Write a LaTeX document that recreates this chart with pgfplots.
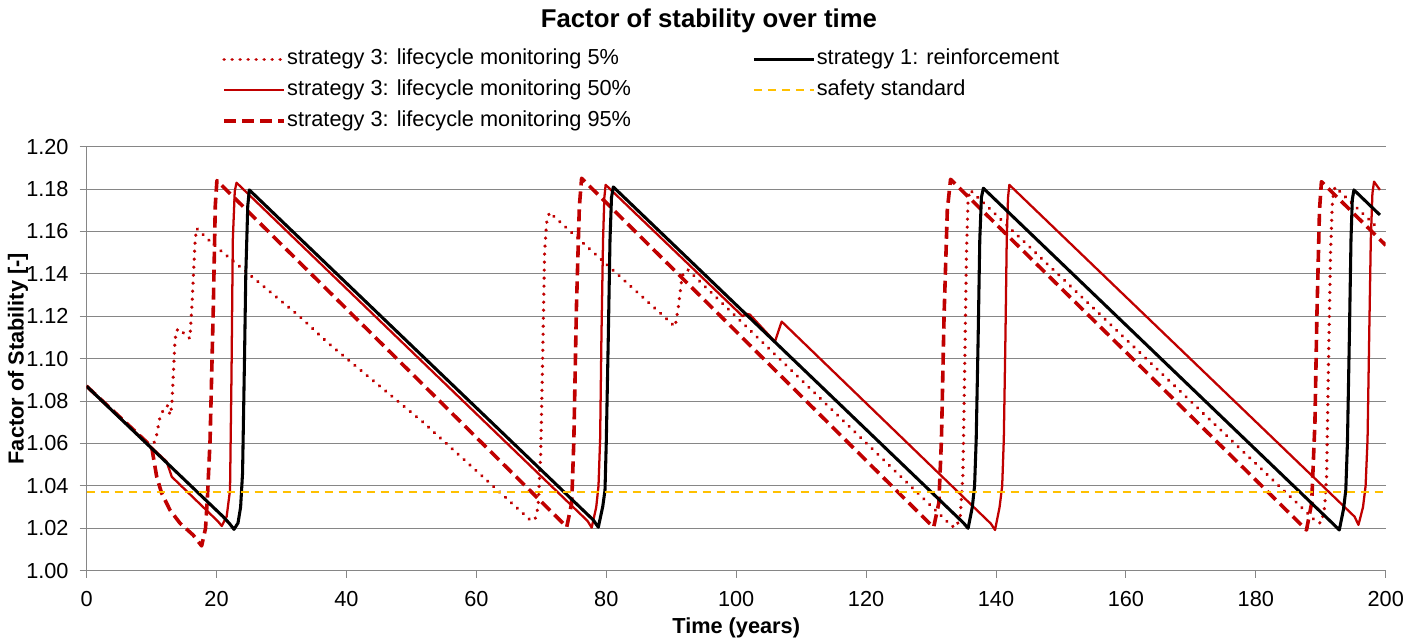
\documentclass[border=0pt]{standalone}
\usepackage{fontspec}
\setmainfont{Liberation Sans}
\usepackage{pgfplots}
\pgfplotsset{compat=1.18}
\definecolor{sred}{HTML}{C00000}
\definecolor{sorange}{HTML}{FFC000}
\definecolor{sgray}{HTML}{868686}
\tikzset{
  sdot/.style={sred, line width=2.7pt, line cap=round, dash pattern=on 0.01pt off 6pt},
  sfifty/.style={sred, line width=1.7pt},
  sninety/.style={sred, line width=2.7pt, dash pattern=on 9pt off 4.5pt},
  sone/.style={black, line width=2.3pt},
  ssafe/.style={sorange, line width=1.5pt, dash pattern=on 6pt off 4.5pt},
}
\begin{document}
\begin{tikzpicture}
\begin{axis}[
  at={(0pt,0pt)}, anchor=south west,
  scale only axis, width=974.25pt, height=318pt,
  xmin=0, xmax=200, ymin=1.00, ymax=1.20,
  xtick={0,20,40,60,80,100,120,140,160,180,200},
  ytick={1.00,1.02,1.04,1.06,1.08,1.10,1.12,1.14,1.16,1.18,1.20},
  axis x line=bottom, axis y line=left,
  axis line style={sgray, line width=1pt, -},
  ymajorgrids, grid style={sgray, line width=0.75pt},
  tick align=outside, major tick length=5.25pt,
  tick style={sgray, line width=0.75pt},
  /pgf/number format/assume math mode=true,
  yticklabel style={/pgf/number format/fixed, /pgf/number format/fixed zerofill, /pgf/number format/precision=2},
  ticklabel style={font=\fontsize{16.3}{19}\selectfont, black},
  yticklabel style={xshift=-4.8pt},
  xticklabel style={yshift=-7pt},
  xlabel={Time (years)}, ylabel={Factor of Stability [-]},
  label style={font=\fontsize{16.3}{19}\selectfont\bfseries},
  x label style={at={(axis description cs:0.5,0)}, anchor=center, yshift=-43pt},
  y label style={at={(axis description cs:0,0.5)}, anchor=center, yshift=51.5pt},
  title={Factor of stability over time},
  title style={at={(axis description cs:0.479,1.2787)}, anchor=center, font=\fontsize{19.3}{22}\selectfont\bfseries},
  legend columns=2,
  legend cell align=left,
  legend image code/.code={\draw[#1] (0pt,0pt) -- (45pt,0pt);},
  legend style={draw=none, fill=none, at={(axis description cs:0.1042,1.2343)}, anchor=north west,
    font=\fontsize{16.3}{19}\selectfont, inner sep=0pt, row sep=5pt,
    nodes={inner sep=1pt, text height=12pt, text depth=4pt},
    /tikz/every even column/.append style={column sep=90pt}},
]
\addlegendimage{sdot}\addlegendentry{strategy 3: lifecycle monitoring 5\%}
\addlegendimage{sone}\addlegendentry{strategy 1: reinforcement}
\addlegendimage{sfifty}\addlegendentry{strategy 3: lifecycle monitoring 50\%}
\addlegendimage{ssafe}\addlegendentry{safety standard}
\addlegendimage{sninety}\addlegendentry{strategy 3: lifecycle monitoring 95\%}

% strategy 3: 5%
\addplot[sdot, line join=round, forget plot] coordinates {
(0,1.087)(10.0,1.0578)(10.67,1.0624)(11.3,1.0726)(12.06,1.0774)(12.5,1.0778)(12.83,1.0734)(13.1,1.0774)(13.6,1.1088)(13.86,1.1135)(14.6,1.1138)(15.1,1.111)(15.9,1.1096)(16.2,1.1245)(16.7,1.156)(16.94,1.1615)(18.5,1.1568)(20.5,1.1513)(23.6,1.1434)(32.84,1.1198)(37.2,1.1073)(51.8,1.0700)(68.3,1.0239)(69.0,1.0239)(69.5,1.030)(69.9,1.055)(70.2,1.10)(70.5,1.15)(70.8,1.164)(71.25,1.169)
(90.6,1.1151)(91.1,1.1245)(91.6,1.137)(91.9,1.141)(92.6,1.1418)
(133.2,1.021)(133.9,1.0205)(134.5,1.026)(134.9,1.045)(135.2,1.10)(135.45,1.15)(135.7,1.175)(136.0,1.1796)
(189.5,1.0226)(190.1,1.0226)(190.6,1.030)(190.9,1.045)(191.2,1.10)(191.5,1.15)(191.8,1.175)(192.2,1.181)(199.1,1.1607)
};
% strategy 3: 50%
\addplot[sfifty, line join=round, forget plot] coordinates {
(0,1.087)(12.3,1.0515)(13.1,1.0443)(20.2,1.0233)(20.8,1.0211)(21.55,1.0255)(22.07,1.038)(22.3,1.093)(22.5,1.156)(22.8,1.179)(23.07,1.183)
(77.1,1.0235)(77.75,1.0203)(78.45,1.030)(78.8,1.040)(79.05,1.062)(79.25,1.11)(79.5,1.156)(79.7,1.176)(79.9,1.182)
(101.0,1.1200)(101.5,1.1212)(102.1,1.1208)(105.97,1.108)(106.5,1.113)(107.0,1.1175)
(139.2,1.0222)(139.85,1.0192)(140.55,1.030)(140.95,1.040)(141.2,1.062)(141.45,1.11)(141.65,1.156)(141.85,1.176)(142.05,1.182)
(195.2,1.0255)(195.8,1.0216)(196.5,1.030)(196.9,1.040)(197.2,1.062)(197.45,1.11)(197.7,1.156)(197.95,1.178)(198.2,1.1835)(199.1,1.1796)
};
% strategy 3: 95%
\addplot[sninety, line join=round, forget plot] coordinates {
(0,1.087)(10.0,1.0585)(10.78,1.0443)(11.55,1.0365)(12.83,1.0286)(14.37,1.0224)(16.4,1.0168)(17.7,1.0117)(18.3,1.020)(18.6,1.035)(19.0,1.0617)(19.5,1.1245)(19.8,1.172)(20.05,1.184)
(73.3,1.0225)(73.9,1.0205)(74.67,1.0318)(75.0,1.061)(75.4,1.124)(75.85,1.1717)(76.2,1.1851)
(129.8,1.0222)(130.4,1.0205)(131.2,1.032)(131.6,1.062)(132.0,1.12)(132.5,1.17)(133.0,1.1846)
(187.2,1.021)(187.8,1.0192)(188.6,1.032)(189.1,1.07)(189.4,1.12)(189.8,1.17)(190.1,1.1835)(200.0,1.1535)
};
% strategy 1
\addplot[sone, line join=round, forget plot] coordinates {
(0,1.087)(21.0,1.0255)(22.0,1.0222)(22.68,1.0195)(23.3,1.0225)(23.7,1.030)(24.0,1.046)(24.3,1.10)(24.5,1.140)(24.8,1.172)(25.04,1.1796)
(78.0,1.0239)(78.77,1.0205)(79.45,1.0302)(79.8,1.038)(80.0,1.061)(80.3,1.1088)(80.57,1.156)(80.8,1.176)(81.08,1.181)
(135.0,1.0225)(135.7,1.0200)(136.35,1.030)(136.7,1.040)(136.95,1.062)(137.25,1.11)(137.5,1.156)(137.75,1.176)(138.05,1.1804)
(192.1,1.0215)(192.85,1.0192)(193.5,1.029)(193.85,1.038)(194.1,1.06)(194.4,1.11)(194.65,1.156)(194.85,1.175)(195.1,1.1796)
(199.1,1.1678)
};
% safety standard
\addplot[ssafe, forget plot] coordinates {(0,1.037)(200,1.037)};
\end{axis}
\pgfresetboundingbox
\path[use as bounding box] (-65pt,-54.2pt) rectangle (1000.7pt,428pt);
\end{tikzpicture}
\end{document}
